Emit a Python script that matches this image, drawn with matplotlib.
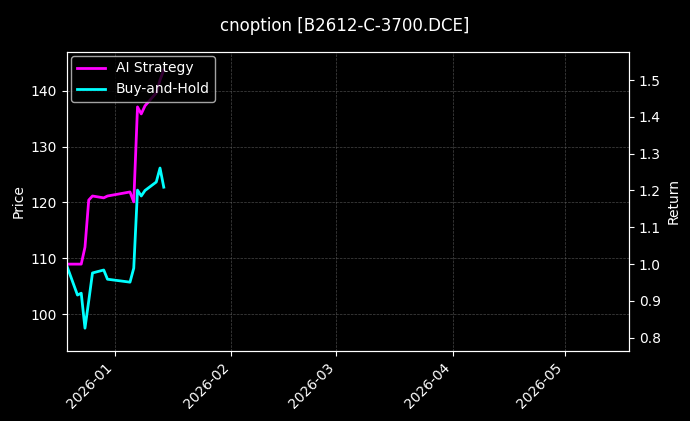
import matplotlib
matplotlib.use("Agg")
import matplotlib.pyplot as plt
import matplotlib.dates as mdates
import pandas as pd

dates = pd.to_datetime([
    "2025-12-19", "2025-12-22", "2025-12-23", "2025-12-24", "2025-12-25",
    "2025-12-26", "2025-12-29", "2025-12-30", "2026-01-05", "2026-01-06",
    "2026-01-07", "2026-01-08", "2026-01-09", "2026-01-12", "2026-01-13",
    "2026-01-14",
])
ai_strategy = [1.0, 1.0, 1.0, 1.046, 1.174, 1.185, 1.180, 1.185, 1.196, 1.169,
               1.427, 1.408, 1.43, 1.465, 1.50, 1.527]
buy_hold = [1.0, 0.916, 0.921, 0.826, 0.90, 0.976, 0.984, 0.959, 0.951, 0.989,
            1.201, 1.185, 1.20, 1.223, 1.261, 1.209]

plt.style.use("dark_background")
fig, ax = plt.subplots(figsize=(6.9, 4.21), dpi=100)
fig.subplots_adjust(left=67 / 690, right=629 / 690, top=1 - 51.7 / 421, bottom=1 - 351 / 421)

ax.set_ylim(93.4, 147.0)
ax.set_ylabel("Price")
ax.grid(True, linestyle="--", linewidth=0.5, color="#666666", alpha=0.7)
ax.set_xlim(pd.Timestamp("2025-12-19 05:00"), pd.Timestamp("2026-05-18"))
ax.xaxis.set_major_locator(mdates.MonthLocator())
ax.xaxis.set_major_formatter(mdates.DateFormatter("%Y-%m"))
plt.setp(ax.get_xticklabels(), rotation=45, ha="right")

ax2 = ax.twinx()
ax2.plot(dates, ai_strategy, color="#ff00ff", linewidth=2, label="AI Strategy")
ax2.plot(dates, buy_hold, color="#00ffff", linewidth=2, label="Buy-and-Hold")
ax2.set_ylim(0.764, 1.577)
ax2.set_ylabel("Return")
ax2.legend(loc="upper left", borderaxespad=0.3)

fig.suptitle("cnoption [B2612-C-3700.DCE]", y=0.96, fontsize=12)
fig.savefig("out.png", dpi=100)
